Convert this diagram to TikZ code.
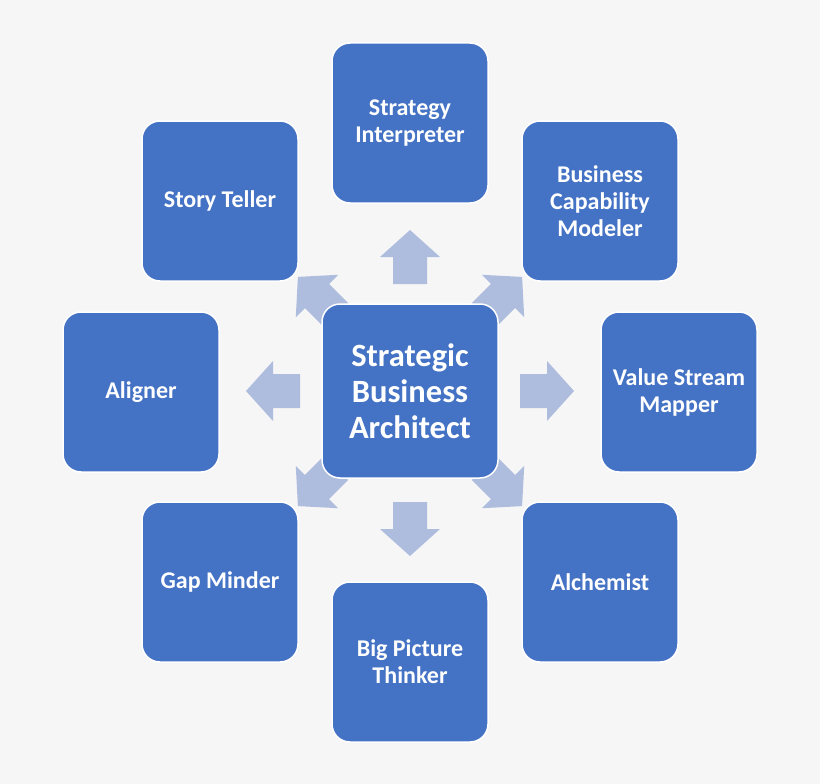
\documentclass[tikz,border=0pt]{standalone}
\usepackage{fontspec}
\setmainfont{Carlito}
\definecolor{bg}{HTML}{F6F6F6}
\definecolor{boxc}{HTML}{4472C4}
\definecolor{arr}{HTML}{AEBCDE}
\begin{document}
\begin{tikzpicture}[x=1pt,y=-1pt,
  box/.style={draw=white,line width=1.5pt,fill=boxc,rounded corners=18pt,minimum width=156pt,minimum height=160pt,align=center,text=white,font=\bfseries\fontsize{24}{27}\selectfont,inner sep=0pt},
  barrow/.pic={\fill[arr] (-27,-17) -- (0,-17) -- (0,-30) -- (27,0) -- (0,30) -- (0,17) -- (-27,17) -- cycle;}]
\fill[bg] (0,0) rectangle (820,784);
\useasboundingbox (0,0) rectangle (820,784);
\pic[rotate=90] at (410,257) {barrow};
\pic[rotate=-90] at (410,529) {barrow};
\pic[rotate=180] at (273,391) {barrow};
\pic at (547,391) {barrow};
\pic[rotate=45] at (503,296) {barrow};
\pic[rotate=135] at (317,296) {barrow};
\pic[rotate=-135] at (317,487) {barrow};
\pic[rotate=-45] at (503,487) {barrow};
\node[box,minimum width=176pt,minimum height=174pt,font=\bfseries\fontsize{32.5}{36}\selectfont] (c) at (410,391) {Strategic\\Business\\Architect};
\node[box] (si) at (410,123) {Strategy\\Interpreter};
\node[box] (st) at (220,201) {Story Teller};
\node[box] (bc) at (600,201) {Business\\Capability\\Modeler};
\node[box] (al) at (141,392) {Aligner};
\node[box] (vs) at (679,392) {Value Stream\\Mapper};
\node[box] (gm) at (220,582) {Gap Minder};
\node[box] (ac) at (600,582) {Alchemist};
\node[box] (bp) at (410,662) {Big Picture\\Thinker};
\end{tikzpicture}
\end{document}
